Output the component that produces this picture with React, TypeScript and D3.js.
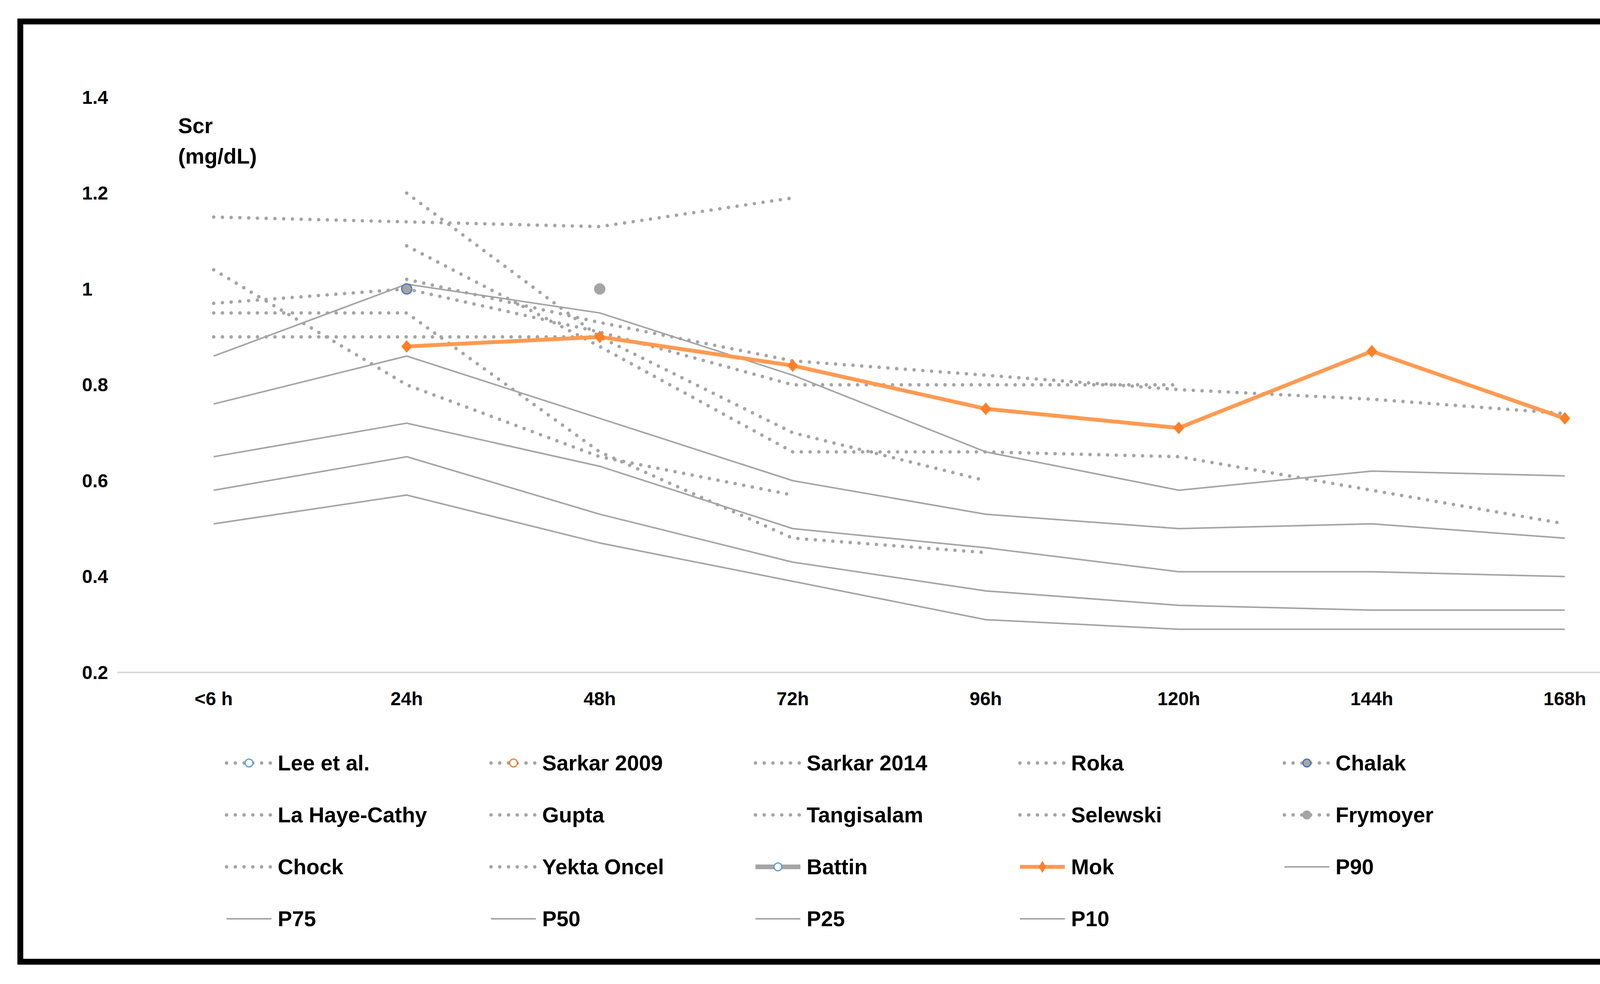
import * as d3 from 'd3'

const W = 4389
const H = 2520
const PLOT = {left: 300, right: 4253, top: 249, bottom: 1722}
const FONT = "'Liberation Sans', Arial, sans-serif"

const GRAY = '#A5A5A5'
const ORANGE_LINE = '#FF9A52'
const ORANGE_MARK = '#FF7F27'

const categories = ['<6 h', '24h', '48h', '72h', '96h', '120h', '144h', '168h']
const yTicks = [0.2, 0.4, 0.6, 0.8, 1, 1.2, 1.4]
const yTickLabels = ['0.2', '0.4', '0.6', '0.8', '1', '1.2', '1.4']

type V = number | null

// published cohorts (dotted)
const leeEtAl: V[] = []
const sarkar2009: V[] = []
const sarkar2014: V[] = [1.15, 1.14, 1.13, 1.19]
const roka: V[] = [null, 1.2, 0.9, 0.7, 0.6]
const chalak: V[] = [null, 1.0]
const laHayeCathy: V[] = [null, 1.09, 0.88, 0.66, 0.66, 0.65, 0.58, 0.51]
const gupta: V[] = [1.04, 0.8, 0.65, 0.57]
const tangisalam: V[] = [0.97, 1.0, 0.91, 0.8, 0.8, 0.8]
const selewski: V[] = [0.95, 0.95, 0.66, 0.48, 0.45]
const frymoyer: V[] = [null, null, 1.0]
const chock: V[] = [0.9, 0.9, 0.9]
const yektaOncel: V[] = [null, 1.02, 0.93, 0.85, 0.82, 0.79, 0.77, 0.74]
const battin: V[] = []
const mok: V[] = [null, 0.88, 0.9, 0.84, 0.75, 0.71, 0.87, 0.73]

// reference percentiles
const p90: V[] = [0.86, 1.01, 0.95, 0.82, 0.66, 0.58, 0.62, 0.61]
const p75: V[] = [0.76, 0.86, 0.73, 0.6, 0.53, 0.5, 0.51, 0.48]
const p50: V[] = [0.65, 0.72, 0.63, 0.5, 0.46, 0.41, 0.41, 0.4]
const p25: V[] = [0.58, 0.65, 0.53, 0.43, 0.37, 0.34, 0.33, 0.33]
const p10: V[] = [0.51, 0.57, 0.47, 0.39, 0.31, 0.29, 0.29, 0.29]

type Kind = 'dot' | 'dotMarker' | 'solid' | 'battin' | 'mok'
type Series = {name: string; values: V[]; kind: Kind; fill?: string; stroke?: string}

const series: Series[] = [
  {name: 'Lee et al.', values: leeEtAl, kind: 'dotMarker', fill: '#fff', stroke: '#5B9BD5'},
  {name: 'Sarkar 2009', values: sarkar2009, kind: 'dotMarker', fill: '#fff', stroke: '#ED7D31'},
  {name: 'Sarkar 2014', values: sarkar2014, kind: 'dot'},
  {name: 'Roka', values: roka, kind: 'dot'},
  {name: 'Chalak', values: chalak, kind: 'dotMarker', fill: GRAY, stroke: '#4472C4'},
  {name: 'La Haye-Cathy', values: laHayeCathy, kind: 'dot'},
  {name: 'Gupta', values: gupta, kind: 'dot'},
  {name: 'Tangisalam', values: tangisalam, kind: 'dot'},
  {name: 'Selewski', values: selewski, kind: 'dot'},
  {name: 'Frymoyer', values: frymoyer, kind: 'dotMarker', fill: GRAY, stroke: GRAY},
  {name: 'Chock', values: chock, kind: 'dot'},
  {name: 'Yekta Oncel', values: yektaOncel, kind: 'dot'},
  {name: 'Battin', values: battin, kind: 'battin', fill: '#fff', stroke: '#5B9BD5'},
  {name: 'Mok', values: mok, kind: 'mok'},
  {name: 'P90', values: p90, kind: 'solid'},
  {name: 'P75', values: p75, kind: 'solid'},
  {name: 'P50', values: p50, kind: 'solid'},
  {name: 'P25', values: p25, kind: 'solid'},
  {name: 'P10', values: p10, kind: 'solid'},
]

const DOT = {stroke: GRAY, strokeWidth: 9, strokeDasharray: '0 22.4', strokeLinecap: 'round' as const}

const lineStyle = (kind: Kind) => {
  if (kind === 'dot' || kind === 'dotMarker') return DOT
  if (kind === 'mok') return {stroke: ORANGE_LINE, strokeWidth: 10, strokeLinejoin: 'round' as const}
  if (kind === 'battin') return {stroke: GRAY, strokeWidth: 12}
  return {stroke: GRAY, strokeWidth: 4}
}

const diamond = d3.symbol(d3.symbolDiamond2, 600)()
const legendDiamond = d3.symbol(d3.symbolDiamond2, 420)()

export default function App() {
  const x = d3.scalePoint<string>().domain(categories).range([PLOT.left, PLOT.right]).padding(0.5)
  const y = d3.scaleLinear().domain([0.2, 1.4]).range([PLOT.bottom, PLOT.top])

  const line = d3
    .line<V>()
    .defined(d => d != null)
    .x((_, i) => x(categories[i]) as number)
    .y(d => y(d as number))

  const drawOrder = [
    ...series.filter(s => s.kind === 'solid'),
    ...series.filter(s => s.kind === 'dot' || s.kind === 'dotMarker' || s.kind === 'battin'),
    ...series.filter(s => s.kind === 'mok'),
  ]

  const lines = drawOrder.map(s => (
    <g key={s.name}>
      <path d={line(s.values) || ''} fill="none" {...lineStyle(s.kind)} />
      {s.values.map((v, i) => {
        if (v == null) return null
        const cx = x(categories[i]) as number
        const cy = y(v)
        if (s.kind === 'mok')
          return (
            <path key={i} d={diamond || ''} transform={`translate(${cx},${cy}) scale(0.9,1.05)`} fill={ORANGE_MARK} />
          )
        if (s.kind === 'dotMarker' || s.kind === 'battin')
          return <circle key={i} cx={cx} cy={cy} r={13} fill={s.fill} stroke={s.stroke} strokeWidth={3} />
        return null
      })}
    </g>
  ))

  const legendX0 = 580
  const legendDX = 677
  const legendY0 = 1954
  const legendDY = 133
  const symLen = 115

  const legend = series.map((s, i) => {
    const col = i % 5
    const row = Math.floor(i / 5)
    const lx = legendX0 + col * legendDX
    const ly = legendY0 + row * legendDY
    const mid = lx + symLen / 2
    return (
      <g key={s.name}>
        <line x1={lx} x2={lx + symLen} y1={ly} y2={ly} {...lineStyle(s.kind)} />
        {(s.kind === 'dotMarker' || s.kind === 'battin') && (
          <circle cx={mid} cy={ly} r={10} fill={s.fill} stroke={s.stroke} strokeWidth={3} />
        )}
        {s.kind === 'mok' && (
          <path d={legendDiamond || ''} transform={`translate(${mid},${ly}) scale(0.7,1.2)`} fill={ORANGE_MARK} />
        )}
        <text x={lx + 131} y={ly} dominantBaseline="central" fontSize={55} fontWeight="bold" fontFamily={FONT} fill="#000">
          {s.name}
        </text>
      </g>
    )
  })

  return (
    <svg
      width={W}
      height={H}
      style={{position: 'absolute', left: 0, top: 0, background: '#fff'}}
      xmlns="http://www.w3.org/2000/svg">
      <rect x={0} y={0} width={W} height={H} fill="#fff" />
      <rect x={52} y={55} width={4286} height={2408} fill="none" stroke="#000" strokeWidth={15} />

      {/* y tick labels */}
      {yTicks.map((t, i) => (
        <text key={t} x={210} y={y(t)} dominantBaseline="central" fontSize={48} fontWeight="bold" fontFamily={FONT} fill="#000">
          {yTickLabels[i]}
        </text>
      ))}

      {/* axis title */}
      <text x={456} y={322} dominantBaseline="central" fontSize={55} fontWeight="bold" fontFamily={FONT} fill="#000">
        Scr
      </text>
      <text x={456} y={400} dominantBaseline="central" fontSize={55} fontWeight="bold" fontFamily={FONT} fill="#000">
        (mg/dL)
      </text>

      {/* horizontal axis line */}
      <line x1={PLOT.left} x2={PLOT.right} y1={y(0.2)} y2={y(0.2)} stroke="#D9D9D9" strokeWidth={4} />

      {/* x tick labels */}
      {categories.map(c => (
        <text
          key={c}
          x={x(c) as number}
          y={1789}
          textAnchor="middle"
          dominantBaseline="central"
          fontSize={48}
          fontWeight="bold"
          fontFamily={FONT}
          fill="#000">
          {c}
        </text>
      ))}

      {lines}
      {legend}
    </svg>
  )
}
